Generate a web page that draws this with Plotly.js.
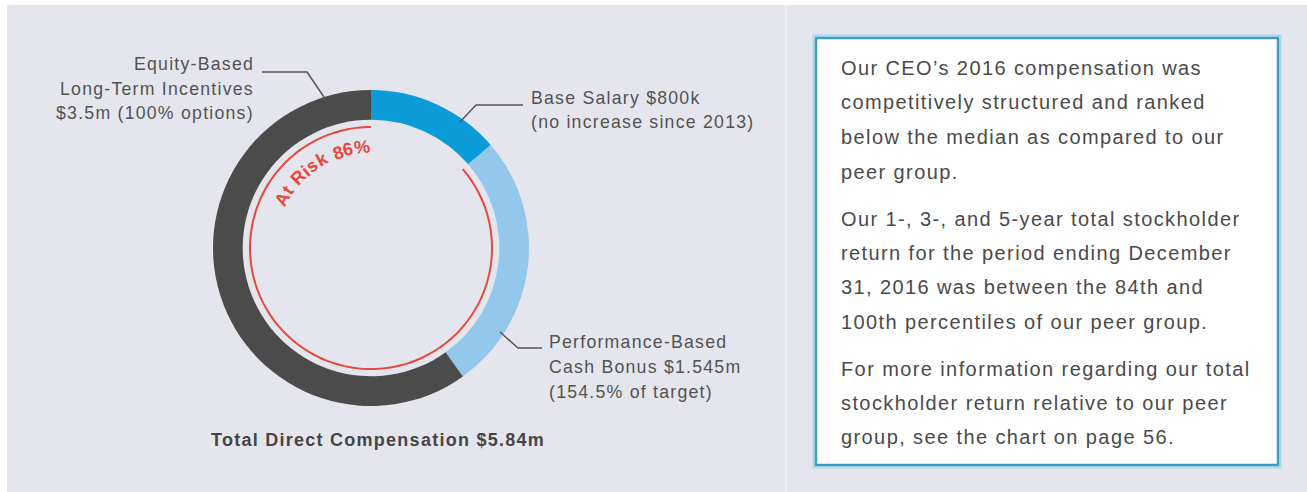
<!DOCTYPE html>
<html>
<head>
<meta charset="utf-8">
<script src="https://cdn.plot.ly/plotly-3.0.1.min.js"></script>
<style>
  html, body { margin: 0; padding: 0; background: #ffffff; }
  #chart { width: 1307px; height: 492px; }
  text { letter-spacing: 0.07em; }
</style>
</head>
<body>
<div id="chart"></div>
<script>
// ---------- data ----------
const categories = ['Base Salary', 'Performance-Based Cash Bonus', 'Equity-Based Long-Term Incentives'];
const valuesM = [0.8, 1.545, 3.5];            // $ millions
const atRiskCategories = ['Performance-Based Cash Bonus', 'Equity-Based Long-Term Incentives'];
const atRiskLabel = 'At Risk 86%';
const totalLabel = 'Total Direct Compensation $5.84m';
const baseSalaryLines = ['Base Salary $800k', '(no increase since 2013)'];
const bonusLines = ['Performance-Based', 'Cash Bonus $1.545m', '(154.5% of target)'];
const equityLines = ['Equity-Based', 'Long-Term Incentives', '$3.5m (100% options)'];
const sideTextLines = [
  ['Our CEO\u2019s 2016 compensation was', 'competitively structured and ranked', 'below the median as compared to our', 'peer group.'],
  ['Our 1-, 3-, and 5-year total stockholder', 'return for the period ending December', '31, 2016 was between the 84th and', '100th percentiles of our peer group.'],
  ['For more information regarding our total', 'stockholder return relative to our peer', 'group, see the chart on page 56.']
];

// ---------- styles / geometry ----------
const sliceColors = ['#0b9bd9', '#93c7ec', '#4b4b4b'];
const W = 1307, H = 492;
const px = x => x / W;
const py = y => 1 - y / H;
const cx = 371, cy = 248, R = 158;
const FONT = 'Liberation Sans, Arial, Helvetica, sans-serif';
const labelColor = '#525252';
const red = '#e8473e';

const annotations = [];
const shapes = [];

// background panels
shapes.push({type: 'rect', xref: 'paper', yref: 'paper', x0: px(7), x1: px(W), y0: py(H), y1: py(5),
  fillcolor: '#e5e6ed', line: {width: 0}, layer: 'below'});
shapes.push({type: 'line', xref: 'paper', yref: 'paper', x0: px(786), x1: px(786), y0: py(H), y1: py(5),
  line: {color: '#eceef4', width: 2}, layer: 'below'});
// text box
shapes.push({type: 'rect', xref: 'paper', yref: 'paper', x0: px(813.5), x1: px(1280.5), y0: py(467.5), y1: py(35.5),
  fillcolor: 'rgba(0,0,0,0)', line: {color: '#a6dbea', width: 2}, layer: 'below'});
shapes.push({type: 'rect', xref: 'paper', yref: 'paper', x0: px(816), x1: px(1278), y0: py(465), y1: py(38),
  fillcolor: '#ffffff', line: {color: '#3c9dc3', width: 2.5}, layer: 'below'});

// at-risk red arc (from end of base salary to full circle)
const total = valuesM.reduce((a, b) => a + b, 0);
const riskStartFrac = valuesM[0] / total;
const rRed = 121;
let path = '';
const N = 180;
for (let i = 0; i <= N; i++) {
  const t = (riskStartFrac + (1 - riskStartFrac) * i / N) * 2 * Math.PI;
  const x = cx + rRed * Math.sin(t), y = cy - rRed * Math.cos(t);
  path += (i === 0 ? 'M ' : ' L ') + px(x).toFixed(5) + ',' + py(y).toFixed(5);
}
shapes.push({type: 'path', xref: 'paper', yref: 'paper', path: path, line: {color: red, width: 2}});

// leader lines
const leader = (pts) => {
  let p = '';
  pts.forEach((pt, i) => { p += (i === 0 ? 'M ' : ' L ') + px(pt[0]) + ',' + py(pt[1]); });
  shapes.push({type: 'path', xref: 'paper', yref: 'paper', path: p, line: {color: '#555555', width: 1.5}});
};
leader([[262, 72], [307, 72], [324, 97]]);
leader([[523, 105], [476, 105], [460, 122]]);
leader([[500, 332], [518, 348], [542, 348]]);

// labels
const addLines = (lines, x, ys, anchor, size, color, bold) => {
  lines.forEach((t, i) => annotations.push({
    xref: 'paper', yref: 'paper', x: px(x), y: py(ys[i]), text: bold ? '<b>' + t + '</b>' : t,
    showarrow: false, xanchor: anchor, yanchor: 'middle',
    font: {family: FONT, size: size, color: color}
  }));
};
addLines(equityLines, 256, [64, 89, 113], 'right', 17.7, labelColor);
addLines(baseSalaryLines, 529, [98, 122], 'left', 17.7, labelColor);
addLines(bonusLines, 547, [342, 367, 392], 'left', 17.7, labelColor);
addLines([totalLabel], 378, [440], 'center', 18, '#454545', true);

const sideYs = [[68, 102, 137, 172], [219, 253, 287, 322], [369, 403, 437]];
sideTextLines.forEach((para, k) => addLines(para, 839, sideYs[k], 'left', 20, '#4a4a4a'));

// curved "At Risk 86%" text
(function () {
  const c = document.createElement('canvas').getContext('2d');
  const fs = 18;
  c.font = 'bold ' + fs + 'px ' + FONT;
  const spacing = 1.1;
  const rT = 101;
  const chars = atRiskLabel.split('');
  const widths = chars.map(ch => c.measureText(ch).width + spacing);
  const totalW = widths.reduce((a, b) => a + b, 0) - spacing;
  const midAngle = -32.5 * Math.PI / 180;
  let s = -totalW / 2;
  chars.forEach((ch, i) => {
    const centerS = s + (widths[i] - spacing) / 2;
    s += widths[i];
    if (ch === ' ') return;
    const th = midAngle + centerS / rT;
    const x = cx + rT * Math.sin(th), y = cy - rT * Math.cos(th);
    annotations.push({
      xref: 'paper', yref: 'paper', x: px(x), y: py(y), text: '<b>' + ch + '</b>',
      showarrow: false, xanchor: 'center', yanchor: 'middle', textangle: th * 180 / Math.PI,
      font: {family: FONT, size: fs, color: red}
    });
  });
})();

const trace = {
  type: 'pie',
  labels: categories,
  values: valuesM,
  sort: false,
  direction: 'clockwise',
  rotation: 0,
  hole: 0.812,
  textinfo: 'none',
  hoverinfo: 'label+value',
  showlegend: false,
  marker: {colors: sliceColors, line: {width: 0}},
  domain: {x: [px(cx - R), px(cx + R)], y: [py(cy + R), py(cy - R)]}
};

const layout = {
  width: W, height: H,
  margin: {l: 0, r: 0, t: 0, b: 0, pad: 0},
  paper_bgcolor: '#ffffff',
  plot_bgcolor: 'rgba(0,0,0,0)',
  showlegend: false,
  shapes: shapes,
  annotations: annotations
};

Plotly.newPlot('chart', [trace], layout, {displayModeBar: false, staticPlot: true});
</script>
</body>
</html>
